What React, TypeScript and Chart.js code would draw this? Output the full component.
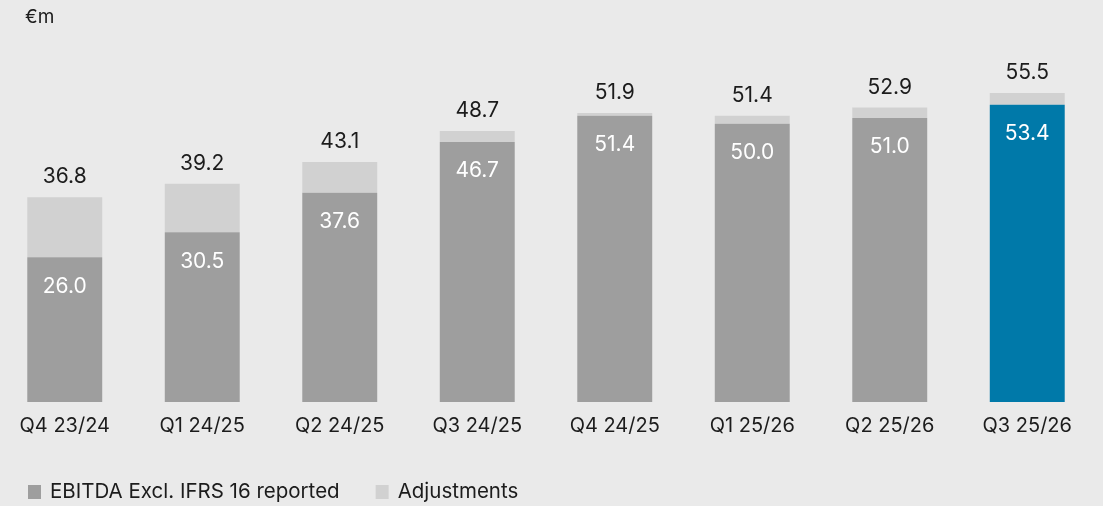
import React, { useEffect, useRef } from "react";
import { Chart, registerables } from "chart.js";

Chart.register(...registerables);

// Quarterly EBITDA, €m
const quarters = ["Q4 23/24", "Q1 24/25", "Q2 24/25", "Q3 24/25", "Q4 24/25", "Q1 25/26", "Q2 25/26", "Q3 25/26"];
const reported = [26.0, 30.5, 37.6, 46.7, 51.4, 50.0, 51.0, 53.4];
const totals = [36.8, 39.2, 43.1, 48.7, 51.9, 51.4, 52.9, 55.5];
const adjustments = totals.map((t, i) => Math.round((t - reported[i]) * 10) / 10);

const seriesNames = ["EBITDA Excl. IFRS 16 reported", "Adjustments"];
const unitLabel = "€m";

const BG = "#eaeaea";
const GREY = "#9e9e9e";
const LIGHT = "#d1d1d1";
const BLUE = "#0079a9";
const INK = "#1c1c1c";
const FONT = "Inter, 'Noto Sans', sans-serif";

const labelsPlugin = {
  id: "barLabels",
  afterDatasetsDraw(chart: any) {
    const { ctx } = chart;
    const base = chart.getDatasetMeta(0);
    const adj = chart.getDatasetMeta(1);
    ctx.save();
    ctx.font = `21px ${FONT}`;
    ctx.textAlign = "center";
    ctx.textBaseline = "middle";
    base.data.forEach((bar: any, i: number) => {
      ctx.fillStyle = "#ffffff";
      ctx.fillText(reported[i].toFixed(1), bar.x, bar.y + 29);
      const top = adj.data[i];
      ctx.fillStyle = INK;
      ctx.fillText(totals[i].toFixed(1), top.x, top.y - 20);
    });
    // unit caption
    ctx.font = `19px ${FONT}`;
    ctx.textAlign = "left";
    ctx.fillText(unitLabel, 29, 17);
    // legend
    const items = [
      { name: seriesNames[0], color: GREY },
      { name: seriesNames[1], color: LIGHT },
    ];
    ctx.font = `20.5px ${FONT}`;
    let x = 32;
    const y = 492;
    items.forEach((it) => {
      ctx.fillStyle = it.color;
      ctx.fillRect(x, y - 7, 13, 14);
      ctx.fillStyle = INK;
      ctx.fillText(it.name, x + 22, y);
      x += 22 + ctx.measureText(it.name).width + 36;
    });
    ctx.restore();
  },
};

export default function App() {
  const ref = useRef<HTMLCanvasElement | null>(null);

  useEffect(() => {
    if (!ref.current) return;
    const chart = new Chart(ref.current, {
      type: "bar",
      data: {
        labels: quarters,
        datasets: [
          {
            label: seriesNames[0],
            data: reported,
            backgroundColor: reported.map((_, i) => (i === reported.length - 1 ? BLUE : GREY)),
            barPercentage: 0.545,
            categoryPercentage: 1,
          },
          {
            label: seriesNames[1],
            data: adjustments,
            backgroundColor: LIGHT,
            barPercentage: 0.545,
            categoryPercentage: 1,
          },
        ],
      },
      options: {
        animation: false,
        responsive: true,
        maintainAspectRatio: false,
        layout: { padding: { top: 68, bottom: 56, left: 0, right: 0 } },
        plugins: {
          legend: { display: false },
          tooltip: { enabled: false },
        },
        scales: {
          x: {
            stacked: true,
            grid: { display: false, drawTicks: false },
            border: { display: false },
            ticks: { color: INK, font: { family: FONT, size: 20 }, padding: 12 },
          },
          y: {
            stacked: true,
            display: false,
            min: 0,
            max: 60,
          },
        },
      },
      plugins: [labelsPlugin],
    });
    return () => chart.destroy();
  }, []);

  return (
    <div style={{ position: "fixed", inset: 0, background: BG, overflow: "hidden" }}>
      <div style={{ position: "absolute", left: -4, top: 0, width: 1100, height: 506 }}>
        <canvas ref={ref} />
      </div>
    </div>
  );
}
